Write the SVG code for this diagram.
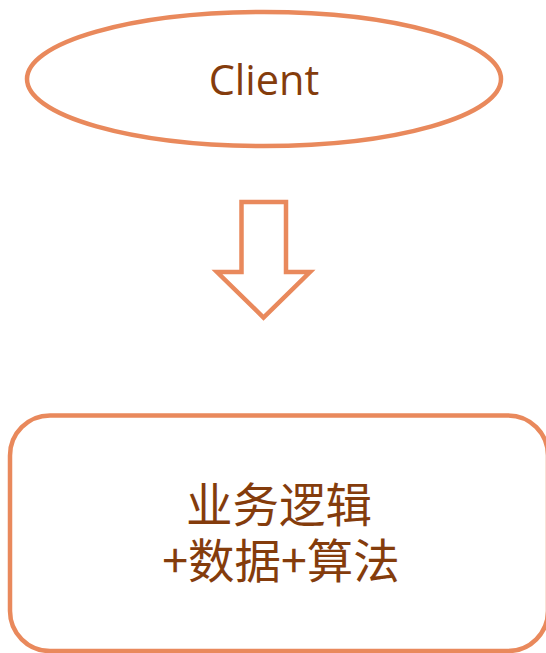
<svg xmlns="http://www.w3.org/2000/svg" width="546" height="653" viewBox="0 0 546 653">
  <style>
    .shape { fill: #FFFFFF; stroke: #E9895C; stroke-width: 4.5; }
    .label { fill: #843C0C; text-anchor: middle; }
    .cjk { font-family: 'Noto Sans CJK SC', 'Noto Sans', sans-serif; font-size: 46.5px; }
  </style>
  <rect x="0" y="0" width="546" height="653" fill="#FFFFFF"/>
  <g id="client">
    <ellipse class="shape" cx="264" cy="79" rx="237" ry="67"/>
    <text class="label" x="264" y="95" font-family="'Open Sans', 'Noto Sans', sans-serif" font-size="41.5">Client</text>
  </g>
  <g id="connectors">
    <path class="shape" d="M241.5,202 H286 V272 H310 L263.5,317.5 L217,272 H241.5 Z" stroke-linejoin="miter"/>
  </g>
  <g id="backend">
    <rect class="shape" x="10" y="415.5" width="538" height="235.5" rx="40" ry="40"/>
    <text class="label cjk" x="279" y="522">业务逻辑</text>
    <text class="label cjk" x="281" y="578">+数据+算法</text>
  </g>
</svg>
